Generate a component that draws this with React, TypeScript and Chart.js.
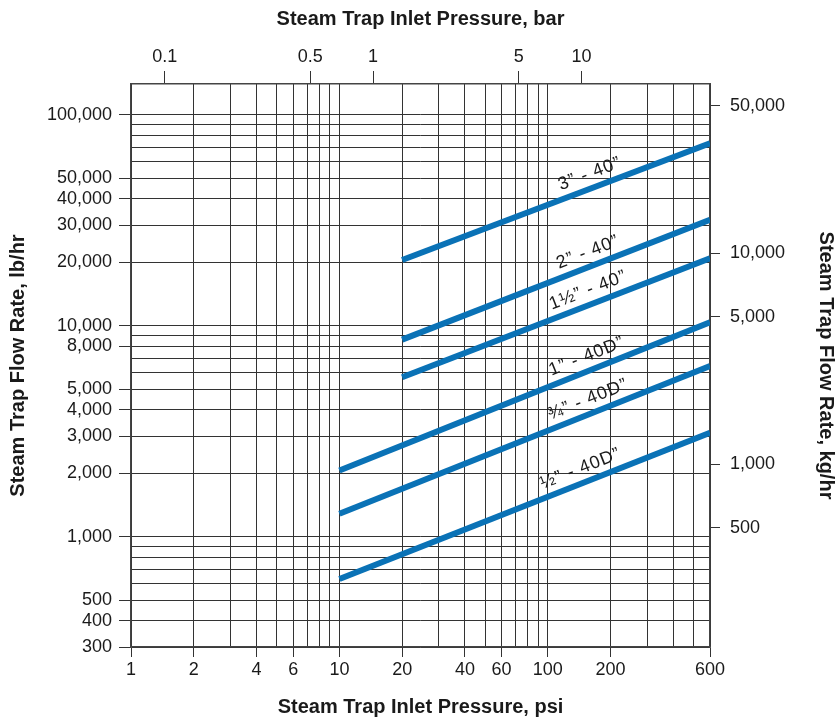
import React, { useEffect, useRef } from "react";
import { Chart, registerables } from "chart.js";

Chart.register(...registerables);

// ---- axes / ticks ----
const psiGridTicks = [1, 2, 3, 4, 5, 6, 7, 8, 9, 10, 20, 30, 40, 50, 60, 70, 80, 90, 100, 200, 300, 400, 500, 600];
const psiLabelTicks = [1, 2, 4, 6, 10, 20, 40, 60, 100, 200, 600];
const flowGridTicks = [300, 400, 500, 600, 700, 800, 900, 1000, 2000, 3000, 4000, 5000, 6000, 7000, 8000, 9000, 10000, 20000, 30000, 40000, 50000, 60000, 70000, 80000, 90000, 100000];
const flowLabelTicks = [300, 400, 500, 1000, 2000, 3000, 4000, 5000, 8000, 10000, 20000, 30000, 40000, 50000, 100000];
const barTicks = [0.1, 0.5, 1, 5, 10];
const kgTicks = [500, 1000, 5000, 10000, 50000];

const psiMin = 1;
const psiMax = 600;
const flowMin = 300;
const flowMax = 140000;
const PSI_PER_BAR = 14.5038;
const KG_PER_LB = 0.45359237;

// ---- series ----
const lineNames = ["3\u201d - 40\u201d", "2\u201d - 40\u201d", "1\u00bd\u201d - 40\u201d", "1\u201d - 40D\u201d", "\u00be\u201d - 40D\u201d", "\u00bd\u201d - 40D\u201d"];
const pipe3Psi = [20, 600];
const pipe3Flow = [20500, 73300];
const pipe2Psi = [20, 600];
const pipe2Flow = [8600, 31800];
const pipe15Psi = [20, 600];
const pipe15Flow = [5700, 20900];
const pipe1Psi = [10, 600];
const pipe1Flow = [2060, 10400];
const pipe075Psi = [10, 600];
const pipe075Flow = [1285, 6450];
const pipe05Psi = [10, 600];
const pipe05Flow = [630, 3110];
const labelPsi = [168, 165, 165, 163, 165, 152];

const seriesPsi = [pipe3Psi, pipe2Psi, pipe15Psi, pipe1Psi, pipe075Psi, pipe05Psi];
const seriesFlow = [pipe3Flow, pipe2Flow, pipe15Flow, pipe1Flow, pipe075Flow, pipe05Flow];

const FONT = '"Liberation Sans", Arial, Helvetica, sans-serif';
const TEXT = "#1a1a1a";
const GRID = "#333333";
const BLUE = "#0a72b6";

const fmt = (v: number) => v.toLocaleString("en-US");

const lineLabelPlugin = {
  id: "lineLabels",
  afterDatasetsDraw(chart: any) {
    const { ctx } = chart;
    const xs = chart.scales.x;
    const ys = chart.scales.y;
    ctx.save();
    ctx.font = `18px ${FONT}`;
    try {
      (ctx as any).letterSpacing = "1px";
    } catch (e) {}
    ctx.fillStyle = TEXT;
    ctx.textAlign = "center";
    ctx.textBaseline = "middle";
    lineNames.forEach((name, i) => {
      const p = seriesPsi[i];
      const f = seriesFlow[i];
      const t = (Math.log(labelPsi[i]) - Math.log(p[0])) / (Math.log(p[1]) - Math.log(p[0]));
      const v = Math.exp(Math.log(f[0]) + t * (Math.log(f[1]) - Math.log(f[0])));
      const x0 = xs.getPixelForValue(p[0]);
      const y0 = ys.getPixelForValue(f[0]);
      const x1 = xs.getPixelForValue(p[1]);
      const y1 = ys.getPixelForValue(f[1]);
      const ang = Math.atan2(y1 - y0, x1 - x0);
      const px = xs.getPixelForValue(labelPsi[i]);
      const py = ys.getPixelForValue(v);
      ctx.save();
      ctx.translate(px, py);
      ctx.rotate(ang);
      ctx.fillText(name, 0, -14);
      ctx.restore();
    });
    ctx.restore();
  },
};

export default function App() {
  const ref = useRef<HTMLCanvasElement>(null);

  useEffect(() => {
    if (!ref.current) return;
    const datasets = lineNames.map((name, i) => ({
      label: name,
      data: seriesPsi[i].map((p, j) => ({ x: p, y: seriesFlow[i][j] })),
      borderColor: BLUE,
      backgroundColor: BLUE,
      borderWidth: 6,
      borderCapStyle: "butt" as const,
      pointRadius: 0,
      fill: false,
      tension: 0,
      xAxisID: "x",
      yAxisID: "y",
    }));

    const tickFont = { family: FONT, size: 18 };
    const titleFont = { family: FONT, size: 20, weight: "bold" as const };

    const chart = new Chart(ref.current, {
      type: "line",
      data: { datasets },
      plugins: [lineLabelPlugin],
      options: {
        animation: false,
        responsive: false,
        layout: { padding: 0 },
        plugins: { legend: { display: false }, tooltip: { enabled: false } },
        scales: {
          x: {
            type: "logarithmic",
            position: "bottom",
            min: psiMin,
            max: psiMax,
            afterBuildTicks: (s: any) => {
              s.ticks = psiGridTicks.map((v) => ({ value: v }));
            },
            afterFit: (s: any) => {
              s.height = 72;
            },
            ticks: {
              autoSkip: false,
              maxRotation: 0,
              minRotation: 0,
              padding: 2,
              color: TEXT,
              font: tickFont,
              callback: (v: any) => (psiLabelTicks.includes(Number(v)) ? String(v) : ""),
            },
            grid: {
              color: GRID,
              lineWidth: 1,
              tickLength: 10,
              tickColor: (c: any) => (c.tick && psiLabelTicks.includes(c.tick.value) ? GRID : "rgba(0,0,0,0)"),
            },
            border: { color: "#444", width: 1.5 },
            title: {
              display: true,
              text: "Steam Trap Inlet Pressure, psi",
              color: TEXT,
              font: titleFont,
              padding: { top: 0, bottom: 0 },
            },
          },
          x2: {
            type: "logarithmic",
            position: "top",
            min: psiMin / PSI_PER_BAR,
            max: psiMax / PSI_PER_BAR,
            afterBuildTicks: (s: any) => {
              s.ticks = barTicks.map((v) => ({ value: v }));
            },
            afterFit: (s: any) => {
              s.height = 84;
            },
            ticks: {
              autoSkip: false,
              maxRotation: 0,
              minRotation: 0,
              padding: 3,
              color: TEXT,
              font: tickFont,
              callback: (v: any) => String(v),
            },
            grid: { drawOnChartArea: false, color: GRID, tickLength: 13, tickColor: GRID },
            border: { color: "#444", width: 1.5 },
            title: {
              display: true,
              text: "Steam Trap Inlet Pressure, bar",
              color: TEXT,
              font: titleFont,
              padding: { top: 7, bottom: 0 },
            },
          },
          y: {
            type: "logarithmic",
            position: "left",
            min: flowMin,
            max: flowMax,
            afterBuildTicks: (s: any) => {
              s.ticks = flowGridTicks.map((v) => ({ value: v }));
            },
            afterFit: (s: any) => {
              s.width = 131;
            },
            ticks: {
              autoSkip: false,
              padding: 7,
              color: TEXT,
              font: tickFont,
              callback: (v: any) => (flowLabelTicks.includes(Number(v)) ? fmt(Number(v)) : ""),
            },
            grid: {
              color: GRID,
              lineWidth: 1,
              tickLength: 12,
              tickColor: (c: any) => (c.tick && flowLabelTicks.includes(c.tick.value) ? GRID : "rgba(0,0,0,0)"),
            },
            border: { color: "#444", width: 1.5 },
            title: {
              display: true,
              text: "Steam Trap Flow Rate, lb/hr",
              color: TEXT,
              font: titleFont,
              padding: { top: 6, bottom: 0 },
            },
          },
          y2: {
            type: "logarithmic",
            position: "right",
            min: flowMin * KG_PER_LB,
            max: flowMax * KG_PER_LB,
            afterBuildTicks: (s: any) => {
              s.ticks = kgTicks.map((v) => ({ value: v }));
            },
            afterFit: (s: any) => {
              s.width = 128;
            },
            ticks: {
              autoSkip: false,
              padding: 10,
              color: TEXT,
              font: tickFont,
              callback: (v: any) => fmt(Number(v)),
            },
            grid: { drawOnChartArea: false, color: GRID, tickLength: 10, tickColor: GRID },
            border: { color: "#444", width: 1.5 },
            title: {
              display: true,
              text: "Steam Trap Flow Rate, kg/hr",
              color: TEXT,
              font: titleFont,
              padding: { top: 0, bottom: 0 },
            },
          },
        },
      },
    });
    return () => chart.destroy();
  }, []);

  return (
    <div style={{ position: "absolute", left: 0, top: 0, width: 838, height: 719, background: "#fff" }}>
      <canvas ref={ref} width={838} height={719} style={{ display: "block" }} />
    </div>
  );
}
